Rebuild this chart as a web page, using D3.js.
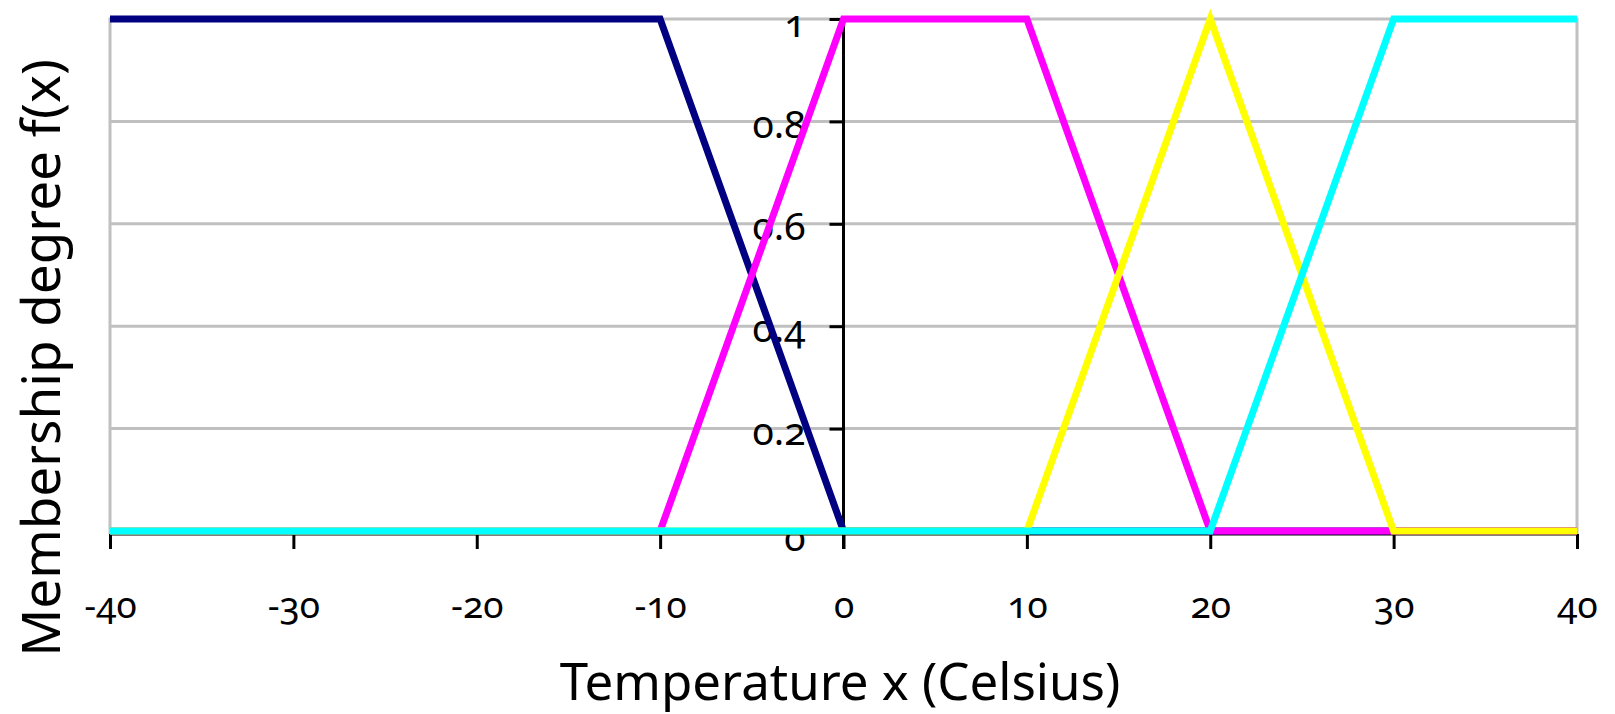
<!DOCTYPE html>
<html>
<head>
<meta charset="utf-8">
<script src="https://cdn.jsdelivr.net/npm/d3@7/dist/d3.min.js"></script>
<style>
  html, body { margin: 0; padding: 0; background: #fff; }
  svg { display: block; }
  text { font-family: "Noto Sans", "Open Sans", sans-serif; fill: #000; font-variant-numeric: oldstyle-nums; font-feature-settings: "onum" 1; }
</style>
</head>
<body>
<svg id="chart" width="1615" height="714"></svg>
<script>
// ---- data ----
const xBreaks = [-40, -10, 0, 10, 20, 30, 40];
const seriesNames = ["Cold", "Cool", "Warm", "Hot"];
const seriesColors = ["#000080", "#FF00FF", "#FFFF00", "#00FFFF"];
const coldValues = [1, 1, 0, 0, 0, 0, 0];
const coolValues = [0, 0, 1, 1, 0, 0, 0];
const warmValues = [0, 0, 0, 0, 1, 0, 0];
const hotValues  = [0, 0, 0, 0, 0, 1, 1];
const xTicks = [-40, -30, -20, -10, 0, 10, 20, 30, 40];
const yTicks = [0, 0.2, 0.4, 0.6, 0.8, 1];
const yTickLabels = ["0", "0.2", "0.4", "0.6", "0.8", "1"];
const xTitle = "Temperature x (Celsius)";
const yTitle = "Membership degree f(x)";

const svg = d3.select("#chart");
const x = d3.scaleLinear().domain([-40, 40]).range([110, 1577]);
const y = d3.scaleLinear().domain([0, 1]).range([531, 19]);

const axisY = y(0) + 3;

// gridlines
svg.append("g").selectAll("line").data(yTicks.filter(d => d > 0)).join("line")
  .attr("x1", x(-40)).attr("x2", x(40))
  .attr("y1", d => y(d)).attr("y2", d => y(d))
  .attr("stroke", "#c0c0c0").attr("stroke-width", 3);
// plot area side borders
svg.append("g").selectAll("line").data([-40, 40]).join("line")
  .attr("x1", d => x(d)).attr("x2", d => x(d))
  .attr("y1", y(1) - 1.5).attr("y2", axisY)
  .attr("stroke", "#c0c0c0").attr("stroke-width", 3);

// x axis
const xAxis = d3.axisBottom(x).tickValues(xTicks).tickSize(15).tickPadding(69).tickFormat(d3.format("d"));
const gx = svg.append("g").attr("transform", `translate(0,${axisY})`).call(xAxis);
gx.select(".domain").attr("stroke", "#000").attr("stroke-width", 3).attr("d", `M${x(-40)},0H${x(40)}`);
gx.selectAll(".tick line").attr("stroke", "#000").attr("stroke-width", 3);
gx.selectAll(".tick text").attr("font-size", 37).attr("font-family", "Noto Sans").attr("dy", "0");
gx.selectAll(".tick text").text(d => d < 0 ? "-" + Math.abs(d) : String(d));

// y axis at x = 0
const yAxis = d3.axisLeft(y).tickValues(yTicks).tickSize(14).tickPadding(24).tickFormat((d, i) => yTickLabels[i]);
const gy = svg.append("g").attr("transform", `translate(${x(0)},0)`).call(yAxis);
gy.select(".domain").attr("stroke", "#000").attr("stroke-width", 3).attr("d", `M0,${y(1)}V${axisY + 15}`);
gy.selectAll(".tick line").attr("stroke", "#000").attr("stroke-width", 3);
gy.selectAll(".tick text").attr("font-size", 39).attr("font-family", "Noto Sans")
  .attr("dy", d => d === 0 ? "0.5em" : d === 1 ? "0.45em" : "0.4em");

// series
const line = d3.line().x(d => x(d[0])).y(d => y(d[1]));
const allValues = [coldValues, coolValues, warmValues, hotValues];
svg.append("g").selectAll("path").data(allValues).join("path")
  .attr("d", vals => line(xBreaks.map((xv, i) => [xv, vals[i]])))
  .attr("fill", "none")
  .attr("stroke", (d, i) => seriesColors[i])
  .attr("stroke-width", 7)
  .attr("stroke-linejoin", "miter");

// titles
svg.append("text").attr("x", 840).attr("y", 700).attr("text-anchor", "middle")
  .attr("font-size", 51).text(xTitle);
svg.append("text").attr("transform", "translate(60,358) rotate(-90)").attr("text-anchor", "middle")
  .attr("font-size", 53).text(yTitle);
</script>
</body>
</html>
